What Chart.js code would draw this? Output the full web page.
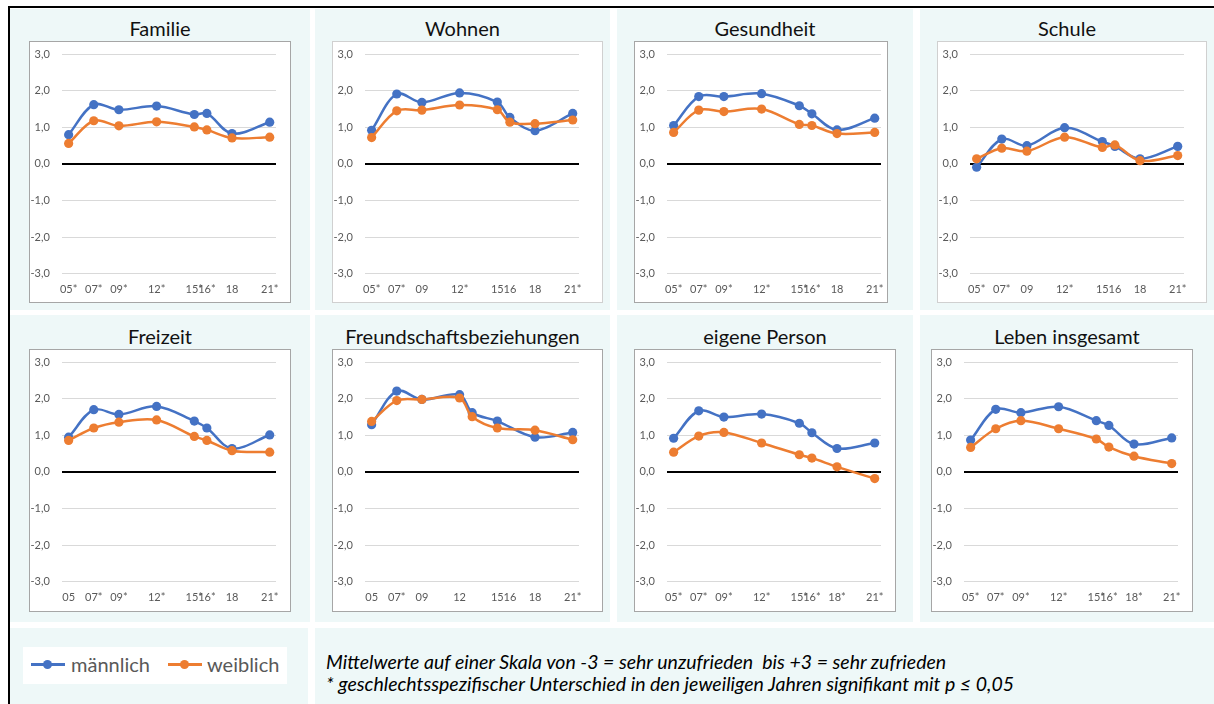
<!DOCTYPE html>
<html lang="de">
<head>
<meta charset="utf-8">
<title>Zufriedenheit nach Geschlecht</title>
<script src="https://cdn.jsdelivr.net/npm/chart.js@4"></script>
<style>
    body { margin: 0; background: #fff; width: 1214px; height: 704px; position: relative; overflow: hidden; font-family: Lato, "Open Sans", sans-serif; }
    .frame-top { position: absolute; left: 8px; top: 6px; width: 1206px; height: 2px; background: #000; }
    .frame-left { position: absolute; left: 8px; top: 6px; width: 2px; height: 698px; background: #000; }
    .cell { position: absolute; background: #eef8f8; }
    .title { position: absolute; left: 0; right: 0; text-align: center; font-size: 20px; line-height: 24px; color: #111; }
    .box { position: absolute; background: #fff; border: 1px solid #a6a6a6; box-sizing: border-box; }
    .plot { position: absolute; }
    .legend { position: absolute; left: 23px; top: 647px; width: 264px; height: 37px; background: #fff; }
    .leg-line { position: absolute; top: 16px; width: 34px; height: 3px; }
    .leg-dot { position: absolute; top: 13px; width: 9px; height: 9px; border-radius: 50%; }
    .leg-text { position: absolute; top: 5px; font-size: 20px; line-height: 24px; color: #595959; }
    .note { position: absolute; left: 326px; top: 651px; font-size: 19.5px; line-height: 22px; font-style: italic; color: #000; white-space: pre; }
</style>
</head>
<body>
<div class="frame-top"></div>
<div class="frame-left"></div>
<div id="panels"></div>

<div class="cell" style="left:10px; top:628px; width:298px; height:76px;"></div>
<div class="cell" style="left:315px; top:628px; width:899px; height:76px;"></div>
<div class="legend">
    <div class="leg-line" style="left:8px; background:#4472c4;"></div>
    <div class="leg-dot" style="left:20px; background:#4472c4;"></div>
    <div class="leg-text" style="left:48px;">männlich</div>
    <div class="leg-line" style="left:145px; background:#ed7d31;"></div>
    <div class="leg-dot" style="left:157px; background:#ed7d31;"></div>
    <div class="leg-text" style="left:184px;">weiblich</div>
</div>
<div class="note">Mittelwerte auf einer Skala von -3 = sehr unzufrieden  bis +3 = sehr zufrieden
* geschlechtsspezifischer Unterschied in den jeweiligen Jahren signifikant mit p ≤ 0,05</div>

<script>
// Survey years and axis labels
const tickYears = [2005, 2007, 2009, 2012, 2015, 2016, 2018, 2021];
const surveyYears = [2005, 2007, 2009, 2012, 2015, 2016, 2018, 2021];
const friendYears = [2005, 2007, 2009, 2012, 2013, 2015, 2018, 2021];
const yTicks = [-3, -2, -1, 0, 1, 2, 3];

// Familie
const familieM = [0.80, 1.62, 1.48, 1.58, 1.35, 1.38, 0.83, 1.14];
const familieW = [0.56, 1.18, 1.04, 1.15, 1.01, 0.93, 0.71, 0.73];
const familieTicks = ['05*', '07*', '09*', '12*', '15*', '16*', '18', '21*'];

// Wohnen
const wohnenM = [0.92, 1.91, 1.68, 1.94, 1.69, 1.27, 0.91, 1.38];
const wohnenW = [0.72, 1.45, 1.47, 1.61, 1.48, 1.14, 1.10, 1.20];
const wohnenTicks = ['05*', '07*', '09', '12*', '15', '16', '18', '21*'];

// Gesundheit
const gesundheitM = [1.05, 1.84, 1.84, 1.92, 1.59, 1.37, 0.93, 1.25];
const gesundheitW = [0.86, 1.47, 1.43, 1.50, 1.08, 1.05, 0.83, 0.86];
const gesundheitTicks = ['05*', '07*', '09*', '12*', '15*', '16*', '18', '21*'];

// Schule
const schuleM = [-0.09, 0.68, 0.50, 0.99, 0.61, 0.48, 0.14, 0.48];
const schuleW = [0.14, 0.43, 0.35, 0.73, 0.45, 0.52, 0.09, 0.23];
const schuleTicks = ['05*', '07*', '09', '12*', '15', '16', '18', '21*'];

// Freizeit
const freizeitM = [0.95, 1.70, 1.57, 1.79, 1.39, 1.20, 0.64, 1.01];
const freizeitW = [0.86, 1.20, 1.36, 1.42, 0.97, 0.86, 0.58, 0.54];
const freizeitTicks = ['05', '07*', '09*', '12*', '15*', '16*', '18', '21*'];

// Freundschaftsbeziehungen
const freundeM = [1.29, 2.21, 1.98, 2.11, 1.62, 1.39, 0.95, 1.08];
const freundeW = [1.38, 1.95, 1.98, 2.02, 1.51, 1.20, 1.14, 0.88];
const freundeTicks = ['05', '07*', '09', '12', '15', '16', '18', '21*'];

// eigene Person
const personM = [0.92, 1.67, 1.50, 1.58, 1.33, 1.07, 0.64, 0.79];
const personW = [0.54, 0.98, 1.08, 0.79, 0.47, 0.38, 0.14, -0.18];
const personTicks = ['05*', '07*', '09*', '12*', '15*', '16*', '18*', '21*'];

// Leben insgesamt
const lebenM = [0.87, 1.71, 1.62, 1.78, 1.40, 1.27, 0.76, 0.93];
const lebenW = [0.67, 1.18, 1.40, 1.18, 0.90, 0.68, 0.43, 0.23];
const lebenTicks = ['05*', '07*', '09*', '12*', '15*', '16*', '18*', '21*'];

const BLUE = '#4472c4';
const ORANGE = '#ed7d31';

// cell = [left, top, width, height], box = [left, top, width, height]
const panels = [
    { title: 'Familie', years: surveyYears, male: familieM, female: familieW, ticks: familieTicks,
      cell: [10, 9, 300, 301], box: [29, 41, 262, 262], border: '#a6a6a6' },
    { title: 'Wohnen', years: surveyYears, male: wohnenM, female: wohnenW, ticks: wohnenTicks,
      cell: [315, 9, 295, 301], box: [332, 41, 271, 262], border: '#d0d0d0' },
    { title: 'Gesundheit', years: surveyYears, male: gesundheitM, female: gesundheitW, ticks: gesundheitTicks,
      cell: [617, 9, 296, 301], box: [634, 41, 254, 262], border: '#a6a6a6' },
    { title: 'Schule', years: surveyYears, male: schuleM, female: schuleW, ticks: schuleTicks,
      cell: [920, 9, 294, 301], box: [937, 41, 270, 262], border: '#d0d0d0' },
    { title: 'Freizeit', years: surveyYears, male: freizeitM, female: freizeitW, ticks: freizeitTicks,
      cell: [10, 315, 300, 307], box: [29, 349, 262, 263], border: '#a6a6a6' },
    { title: 'Freundschaftsbeziehungen', years: friendYears, male: freundeM, female: freundeW, ticks: freundeTicks,
      cell: [315, 315, 295, 307], box: [332, 349, 271, 263], border: '#a6a6a6' },
    { title: 'eigene Person', years: surveyYears, male: personM, female: personW, ticks: personTicks,
      cell: [617, 315, 296, 307], box: [634, 349, 262, 263], border: '#a6a6a6' },
    { title: 'Leben insgesamt', years: surveyYears, male: lebenM, female: lebenW, ticks: lebenTicks,
      cell: [920, 315, 294, 307], box: [931, 349, 262, 263], border: '#a6a6a6' }
];

// plot area inside each box: offset from box edge and size
const PLOT_DX = 33, PLOT_DY = 12.6, PLOT_W = 214, PLOT_H = 220;

const container = document.getElementById('panels');

panels.forEach(p => {
    const cell = document.createElement('div');
    cell.className = 'cell';
    cell.style.cssText = `left:${p.cell[0]}px;top:${p.cell[1]}px;width:${p.cell[2]}px;height:${p.cell[3]}px;`;
    const title = document.createElement('div');
    title.className = 'title';
    title.style.top = (p.box[1] - p.cell[1] - 25) + 'px';
    title.textContent = p.title;
    cell.appendChild(title);
    container.appendChild(cell);

    const box = document.createElement('div');
    box.className = 'box';
    box.style.cssText = `left:${p.box[0]}px;top:${p.box[1]}px;width:${p.box[2]}px;height:${p.box[3]}px;border-color:${p.border};`;
    container.appendChild(box);

    // first pass measures the space the axes take, second pass sizes the canvas so
    // the plot area lands on the reference position
    const probe = document.createElement('canvas');
    probe.className = 'plot';
    probe.width = 300;
    probe.height = 300;
    container.appendChild(probe);
    const test = drawPanel(probe, p);
    const area = test.chartArea;
    const padL = area.left, padT = area.top;
    const padR = probe.width - area.right, padB = probe.height - area.bottom;
    test.destroy();
    probe.remove();

    const canvas = document.createElement('canvas');
    canvas.className = 'plot';
    canvas.width = Math.round(padL + PLOT_W + padR);
    canvas.height = Math.round(padT + PLOT_H + padB);
    canvas.style.left = (p.box[0] + PLOT_DX - padL) + 'px';
    canvas.style.top = (p.box[1] + PLOT_DY - padT) + 'px';
    container.appendChild(canvas);
    drawPanel(canvas, p);
});

function drawPanel(canvas, p) {
    const tickFont = { family: 'Lato', size: 11 };

    return new Chart(canvas.getContext('2d'), {
        type: 'line',
        data: {
            datasets: [{
                label: 'männlich',
                data: p.years.map((x, i) => ({ x: x, y: p.male[i] })),
                borderColor: BLUE,
                pointBackgroundColor: BLUE,
                pointBorderColor: BLUE,
                order: 1
            }, {
                label: 'weiblich',
                data: p.years.map((x, i) => ({ x: x, y: p.female[i] })),
                borderColor: ORANGE,
                pointBackgroundColor: ORANGE,
                pointBorderColor: ORANGE,
                order: 0
            }]
        },
        options: {
            responsive: false,
            maintainAspectRatio: false,
            animation: false,
            layout: { padding: { left: 0, top: 0, right: 14, bottom: 0 } },
            elements: {
                line: { borderWidth: 2.5, tension: 0.35 },
                point: { radius: 4.6, borderWidth: 0 }
            },
            plugins: {
                legend: { display: false },
                tooltip: { enabled: false }
            },
            scales: {
                x: {
                    type: 'linear',
                    min: 2004.5,
                    max: 2021.5,
                    afterBuildTicks: axis => { axis.ticks = tickYears.map(v => ({ value: v })); },
                    grid: { display: false, drawTicks: false },
                    border: { display: false },
                    ticks: {
                        autoSkip: false,
                        maxRotation: 0,
                        padding: 9,
                        color: '#595959',
                        font: tickFont,
                        callback: (value, index) => p.ticks[index]
                    }
                },
                y: {
                    min: -3,
                    max: 3,
                    afterBuildTicks: axis => { axis.ticks = yTicks.map(v => ({ value: v })); },
                    grid: {
                        drawTicks: false,
                        color: c => (c.tick && c.tick.value === 0) ? '#000' : '#d9d9d9',
                        lineWidth: c => (c.tick && c.tick.value === 0) ? 2 : 1
                    },
                    border: { display: false },
                    ticks: {
                        padding: 12.5,
                        color: '#595959',
                        font: tickFont,
                        callback: value => value.toFixed(1).replace('.', ',')
                    }
                }
            }
        }
    });
}
</script>
</body>
</html>
